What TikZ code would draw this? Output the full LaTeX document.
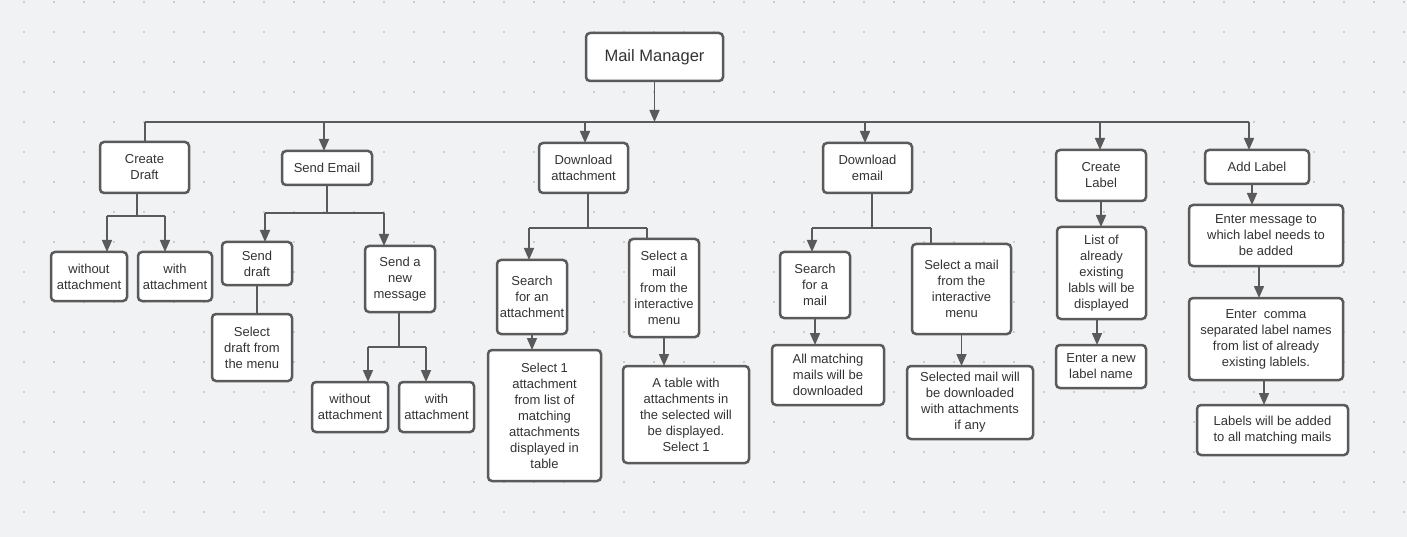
\documentclass[tikz,border=0pt]{standalone}
\usepackage{fontspec}
\setmainfont{Liberation Sans}
\usetikzlibrary{arrows.meta}
\definecolor{bg}{HTML}{F1F2F4}
\definecolor{ln}{HTML}{5A5A5A}
\definecolor{dotc}{HTML}{A6A9AE}
\definecolor{txt}{HTML}{333333}
\tikzset{
 box/.style={draw=ln, line width=2.5pt, fill=white, rounded corners=4pt, align=center, text=txt,
   font=\fontsize{13}{16}\selectfont, inner sep=0pt, outer sep=0pt},
 conn/.style={draw=ln, line width=1.6pt},
 arr/.style={conn, -{Triangle[length=12pt,width=10pt]}},
}
\newcommand\bx[6]{\node[box, minimum width={(#4-#2)*1pt}, minimum height={(#5-#3)*1pt}] (#1) at ({(#2+#4)/2},{(#3+#5)/2}) {#6};}
\begin{document}
\begin{tikzpicture}[x=1pt,y=-1pt]
\useasboundingbox (0,0) rectangle (1407,537);
\fill[bg] (0,0) rectangle (1407,537);
\foreach \xx in {24,54,...,1404} \foreach \yy in {2,32,...,532} \fill[dotc] (\xx,\yy) circle (0.8);

% boxes
\bx{mm}{586}{33}{723}{81}{\fontsize{16.5}{20}\selectfont Mail Manager}
\bx{cd}{100}{142}{189}{193}{Create\\Draft}
\bx{se}{282}{151}{372}{185}{Send Email}
\bx{da}{539}{143}{628}{193}{Download\\attachment}
\bx{de}{823}{143}{912}{193}{Download\\email}
\bx{cl}{1056}{150}{1146}{201}{Create\\Label}
\bx{al}{1205}{150}{1309}{184}{Add Label}
\bx{cdo}{51}{252}{127}{301}{without\\attachment}
\bx{cdw}{138}{252}{212}{301}{with\\attachment}
\bx{sd}{222}{242}{292}{285}{Send\\draft}
\bx{sn}{365}{246}{435}{312}{Send a\\new\\message}
\bx{sdm}{212}{314}{292}{381}{Select\\draft from\\the menu}
\bx{sno}{312}{382}{388}{432}{without\\attachment}
\bx{snw}{399}{382}{474}{432}{with\\attachment}
\bx{das}{497}{260}{567}{334}{Search\\for an\\attachment}
\bx{dam}{629}{239}{699}{337}{Select a\\mail\\from the\\interactive\\menu}
\bx{das1}{488}{350}{601}{481}{Select 1\\attachment\\from list of\\matching\\attachments\\displayed in\\table}
\bx{dat}{623}{366}{749}{463}{A table with\\attachments in\\the selected will\\be displayed.\\Select 1}
\bx{des}{780}{252}{850}{318}{Search\\for a\\mail}
\bx{dem}{912}{244}{1011}{334}{Select a mail\\from the\\interactive\\menu}
\bx{dea}{772}{345}{884}{405}{All matching\\mails will be\\downloaded}
\bx{ded}{907}{366}{1033}{439}{Selected mail will\\be downloaded\\with attachments\\if any}
\bx{cll}{1057}{227}{1146}{319}{List of\\already\\existing\\labls will be\\displayed}
\bx{cln}{1056}{345}{1146}{388}{Enter a new\\label name}
\bx{alm}{1189}{205}{1343}{266}{Enter message to\\which label needs to\\be added}
\bx{alc}{1189}{298}{1343}{380}{Enter\ \ comma\\separated label names\\from list of already\\existing lablels.}
\bx{ala}{1197}{405}{1348}{455}{Labels will be added\\to all matching mails}

% top bus
\coordinate (b1) at (145,122);
\coordinate (b2) at (324,122);
\coordinate (b3) at (585,122);
\coordinate (b4) at (865,122);
\coordinate (b5) at (1100,122);
\coordinate (b6) at (1249,122);
\draw[conn] (b1) -- (b6);
\draw[arr] (mm.south) -- (mm.south |- b1);
\draw[conn] (b1) -- (b1 |- cd.north);
\draw[arr] (b2) -- (b2 |- se.north);
\draw[arr] (b3) -- (b3 |- da.north);
\draw[arr] (b4) -- (b4 |- de.north);
\draw[arr] (b5) -- (b5 |- cl.north);
\draw[arr] (b6) -- (b6 |- al.north);

% Create Draft
\coordinate (c0) at (137,216);
\coordinate (c1) at (107,216);
\coordinate (c2) at (165,216);
\draw[conn] (c0 |- cd.south) -- (c0);
\draw[conn] (c1) -- (c2);
\draw[arr] (c1) -- (c1 |- cdo.north);
\draw[arr] (c2) -- (c2 |- cdw.north);

% Send Email
\coordinate (s1) at (265,213);
\coordinate (s2) at (384,213);
\draw[conn] (se.south) -- (se.south |- s1);
\draw[conn] (s1) -- (s2);
\draw[arr] (s1) -- (s1 |- sd.north);
\draw[arr] (s2) -- (s2 |- sn.north);
\draw[conn] (sd.south) -- (sd.south |- sdm.north);
\coordinate (n0) at (399,347);
\coordinate (n1) at (368,347);
\coordinate (n2) at (426,347);
\draw[conn] (n0 |- sn.south) -- (n0);
\draw[conn] (n1) -- (n2);
\draw[arr] (n1) -- (n1 |- sno.north);
\draw[arr] (n2) -- (n2 |- snw.north);

% Download attachment
\coordinate (a0) at (588,228);
\coordinate (a1) at (529,228);
\coordinate (a2) at (647,228);
\draw[conn] (a0 |- da.south) -- (a0);
\draw[conn] (a1) -- (a2);
\draw[arr] (a1) -- (a1 |- das.north);
\draw[conn] (a2) -- (a2 |- dam.north);
\draw[arr] (das.south) -- (das.south |- das1.north);
\draw[arr] (dam.south) -- (dam.south |- dat.north);

% Download email
\coordinate (e0) at (872,228);
\coordinate (e1) at (812,228);
\coordinate (e2) at (931,228);
\draw[conn] (e0 |- de.south) -- (e0);
\draw[conn] (e1) -- (e2);
\draw[arr] (e1) -- (e1 |- des.north);
\draw[conn] (e2) -- (e2 |- dem.north);
\draw[arr] (des.south) -- (des.south |- dea.north);
\draw[arr] (dem.south) -- (dem.south |- ded.north);

% Create Label
\draw[arr] (cl.south) -- (cl.south |- cll.north);
\coordinate (l1) at (1097,319);
\draw[arr] (l1 |- cll.south) -- (l1 |- cln.north);

% Add Label
\coordinate (m1) at (1252,184);
\coordinate (m2) at (1259,266);
\coordinate (m3) at (1264,380);
\draw[arr] (m1 |- al.south) -- (m1 |- alm.north);
\draw[arr] (m2 |- alm.south) -- (m2 |- alc.north);
\draw[arr] (m3 |- alc.south) -- (m3 |- ala.north);
\end{tikzpicture}
\end{document}
